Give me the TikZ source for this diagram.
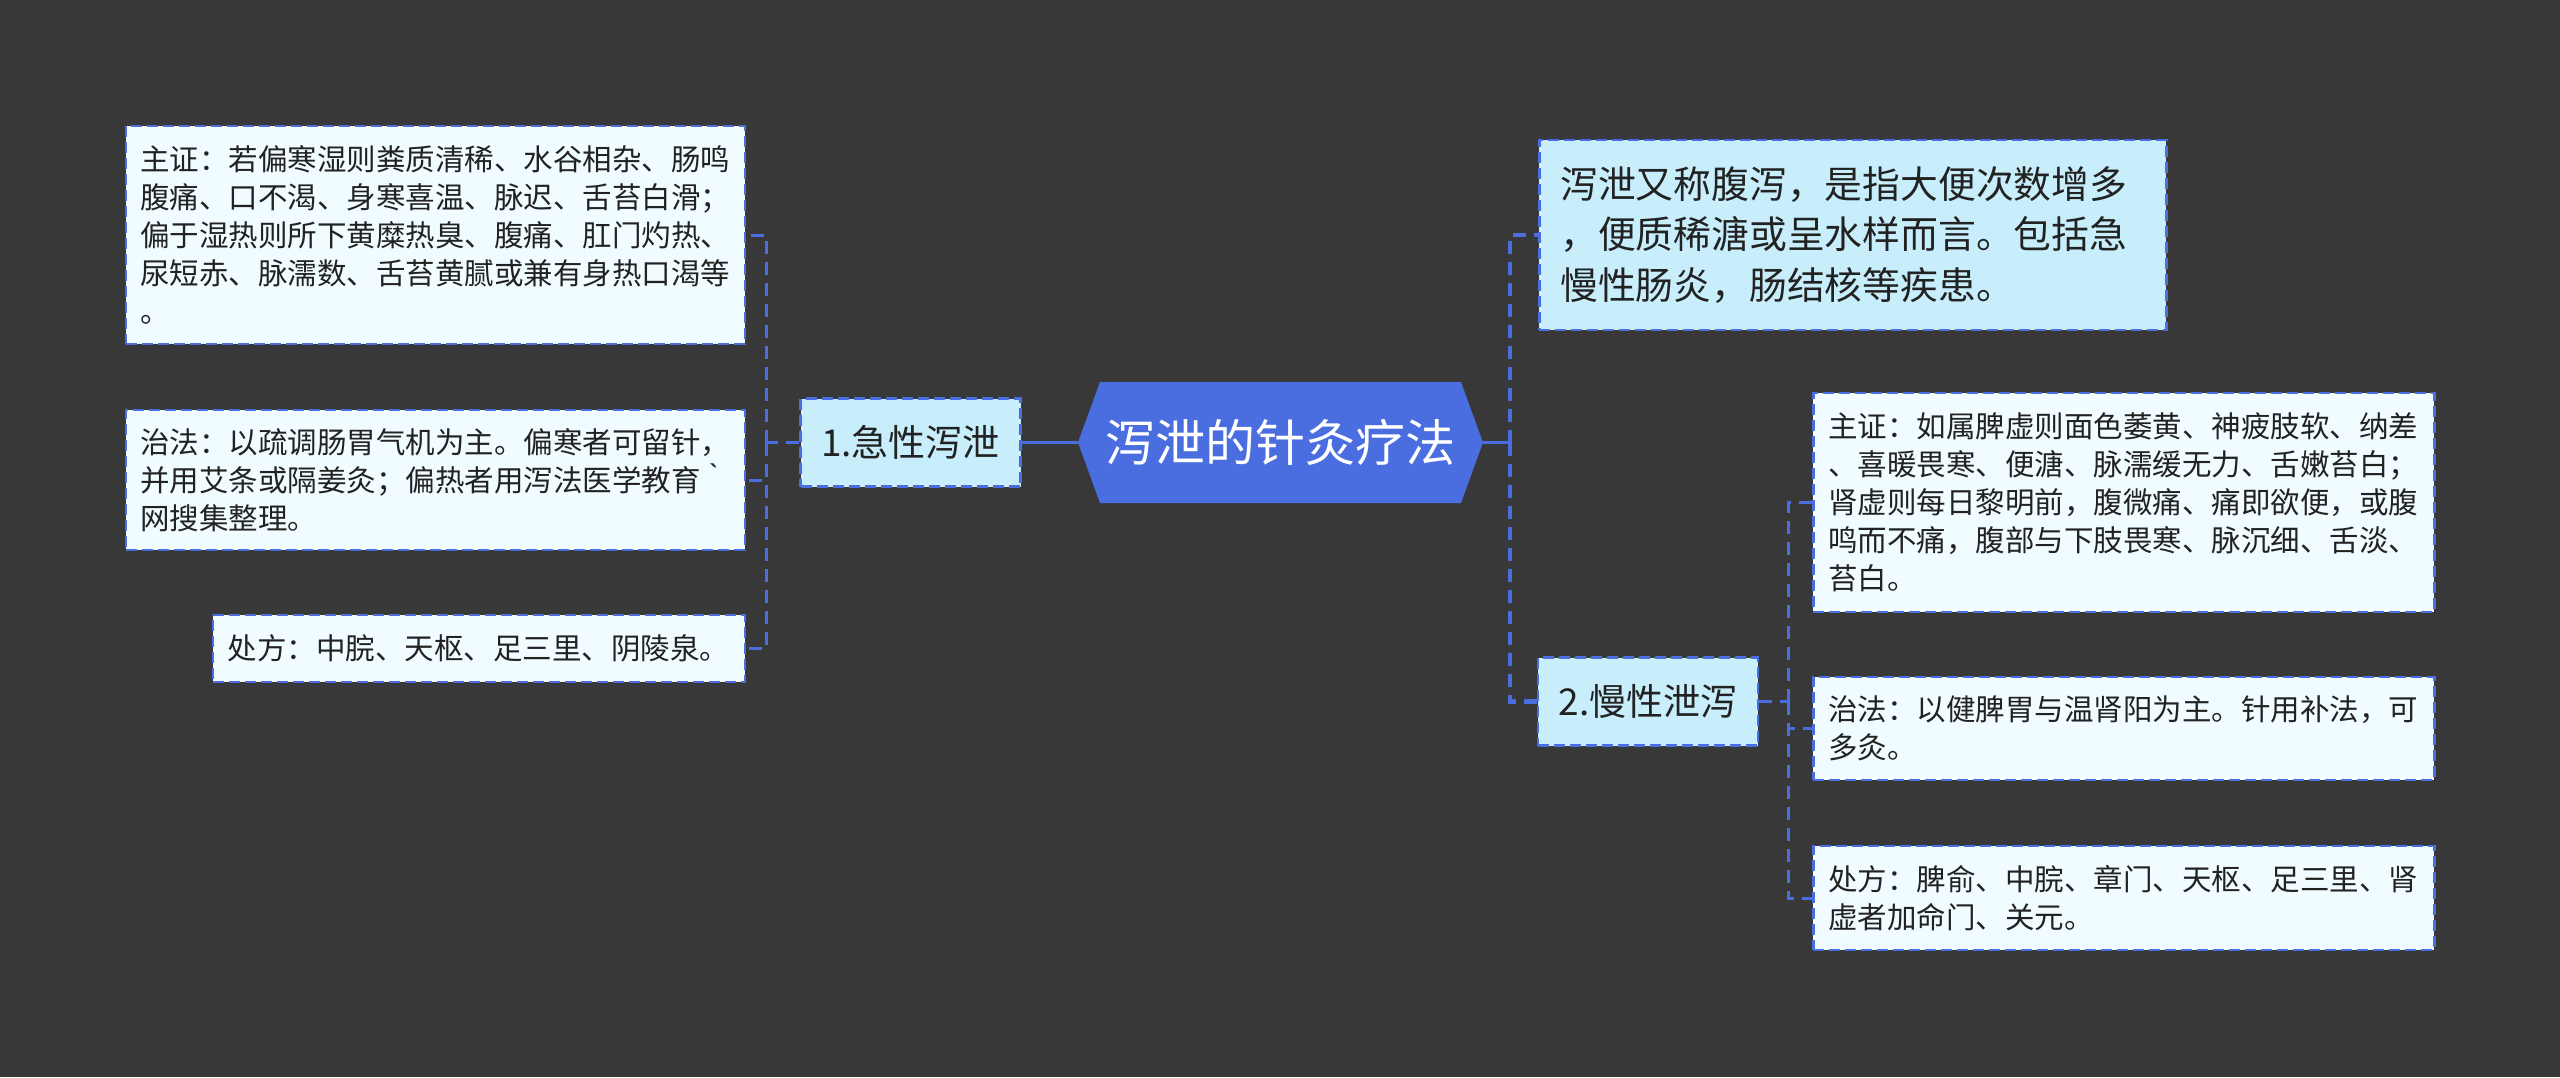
\documentclass[tikz,border=0pt]{standalone}
\usepackage{fontspec}
\setmainfont{Noto Sans CJK SC}
\usetikzlibrary{positioning}

\definecolor{bgdark}{HTML}{383838}
\definecolor{mapblue}{HTML}{4A6EE0}
\definecolor{branchfill}{HTML}{C8EEFC}
\definecolor{leaffill}{HTML}{F0FCFF}
\definecolor{inktext}{HTML}{222222}

\begin{document}
\begin{tikzpicture}[
            x=1pt, y=-1pt,
            rootbox/.style={
                    minimum width=405pt,
                    minimum height=121pt,
                    inner sep=0pt,
                    text=white,
                    font=\fontsize{50}{60}\selectfont,
                    path picture={
                            \fill[mapblue]
                            ([xshift=22pt]path picture bounding box.north west)
                            -- ([xshift=-22pt]path picture bounding box.north east)
                            -- (path picture bounding box.east)
                            -- ([xshift=-22pt]path picture bounding box.south east)
                            -- ([xshift=22pt]path picture bounding box.south west)
                            -- (path picture bounding box.west) -- cycle;
                        }
                },
            branch/.style={
                    draw=mapblue,
                    fill=branchfill,
                    line width=2.5pt,
                    dash pattern=on 11pt off 5pt,
                    minimum width=220pt,
                    minimum height=88pt,
                    text=inktext,
                    font=\fontsize{37}{44}\selectfont
                },
            descbox/.style={
                    branch,
                    text width=585pt,
                    inner xsep=21pt,
                    minimum height=190pt,
                    align=left,
                    font=\fontsize{37.8}{50.6}\selectfont
                },
            leaf/.style={
                    draw=mapblue,
                    fill=leaffill,
                    line width=2.5pt,
                    dash pattern=on 11pt off 5pt,
                    text width=590pt,
                    inner xsep=14.5pt,
                    align=left,
                    text=inktext,
                    font=\fontsize{29.5}{38}\selectfont
                },
            link/.style={
                    draw=mapblue,
                    line width=3pt
                },
            dlink/.style={
                    link,
                    dash pattern=on 13pt off 8pt
                },
            rootdlink/.style={
                    dlink,
                    line width=4.5pt
                }
        ]

        \fill[bgdark] (0,0) rectangle (2560,1077);
        \useasboundingbox (0,0) rectangle (2560,1077);

        % centre
        \node[rootbox] (root) at (1280.5,442.5)
        {泻泄的针灸疗法};

        % branches
        \node[branch,left=56pt of root]
        (acute)
        {1.急性泻泄};

        \node[branch] (chronic) at (1648,701.5)
        {2.慢性泄泻};

        \node[descbox,anchor=west] (define) at (1538,235)
        {泻泄又称腹泻，是指大便次数增多\\，便质稀溏或呈水样而言。包括急\\慢性肠炎，肠结核等疾患。};

        % leaves of 1
        \node[leaf,anchor=east,minimum height=218pt] (acutesign) at (746,235)
        {主证：若偏寒湿则粪质清稀、水谷相杂、肠鸣\\腹痛、口不渴、身寒喜温、脉迟、舌苔白滑；\\偏于湿热则所下黄糜热臭、腹痛、肛门灼热、\\尿短赤、脉濡数、舌苔黄腻或兼有身热口渴等\\。};

        \node[leaf,anchor=east,minimum height=140pt] (acutecure) at (746,480)
        {治法：以疏调肠胃气机为主。偏寒者可留针，\\并用艾条或隔姜灸；偏热者用泻法医学教育｀\\网搜集整理。};

        \node[leaf,anchor=east,text width=502pt,inner xsep=15pt,minimum height=67pt] (acuterx) at (746,648.5)
        {处方：中脘、天枢、足三里、阴陵泉。};

        % leaves of 2
        \node[leaf,anchor=west,text width=591pt,inner xsep=15pt,minimum height=219pt] (chronsign) at (1812,502.5)
        {主证：如属脾虚则面色萎黄、神疲肢软、纳差\\、喜暖畏寒、便溏、脉濡缓无力、舌嫩苔白；\\肾虚则每日黎明前，腹微痛、痛即欲便，或腹\\鸣而不痛，腹部与下肢畏寒、脉沉细、舌淡、\\苔白。};

        \node[leaf,anchor=west,text width=591pt,inner xsep=15pt,minimum height=103pt] (chroncure) at (1812,728.5)
        {治法：以健脾胃与温肾阳为主。针用补法，可\\多灸。};

        \node[leaf,anchor=west,text width=591pt,inner xsep=15pt,minimum height=104pt] (chronrx) at (1812,898)
        {处方：脾俞、中脘、章门、天枢、足三里、肾\\虚者加命门、关元。};

        % connectors
        \draw[link](root.west)--(acute.east);
        \draw[link](root.east)--++(27,0) coordinate (rightfork);
        \draw[rootdlink](rightfork)|-(define.west);
        \draw[rootdlink](rightfork)|-(chronic.west);

        \draw[dlink](acute.west)--++(-33,0) coordinate (leftfork);
        \draw[dlink](leftfork)|-(acutesign.east);
        \draw[dlink](leftfork)|-(acutecure.east);
        \draw[dlink](leftfork)|-(acuterx.east);

        \draw[dlink](chronic.east)--++(29,0) coordinate (chronfork);
        \draw[dlink](chronfork)|-(chronsign.west);
        \draw[dlink](chronfork)|-(chroncure.west);
        \draw[dlink](chronfork)|-(chronrx.west);

    \end{tikzpicture}
\end{document}
